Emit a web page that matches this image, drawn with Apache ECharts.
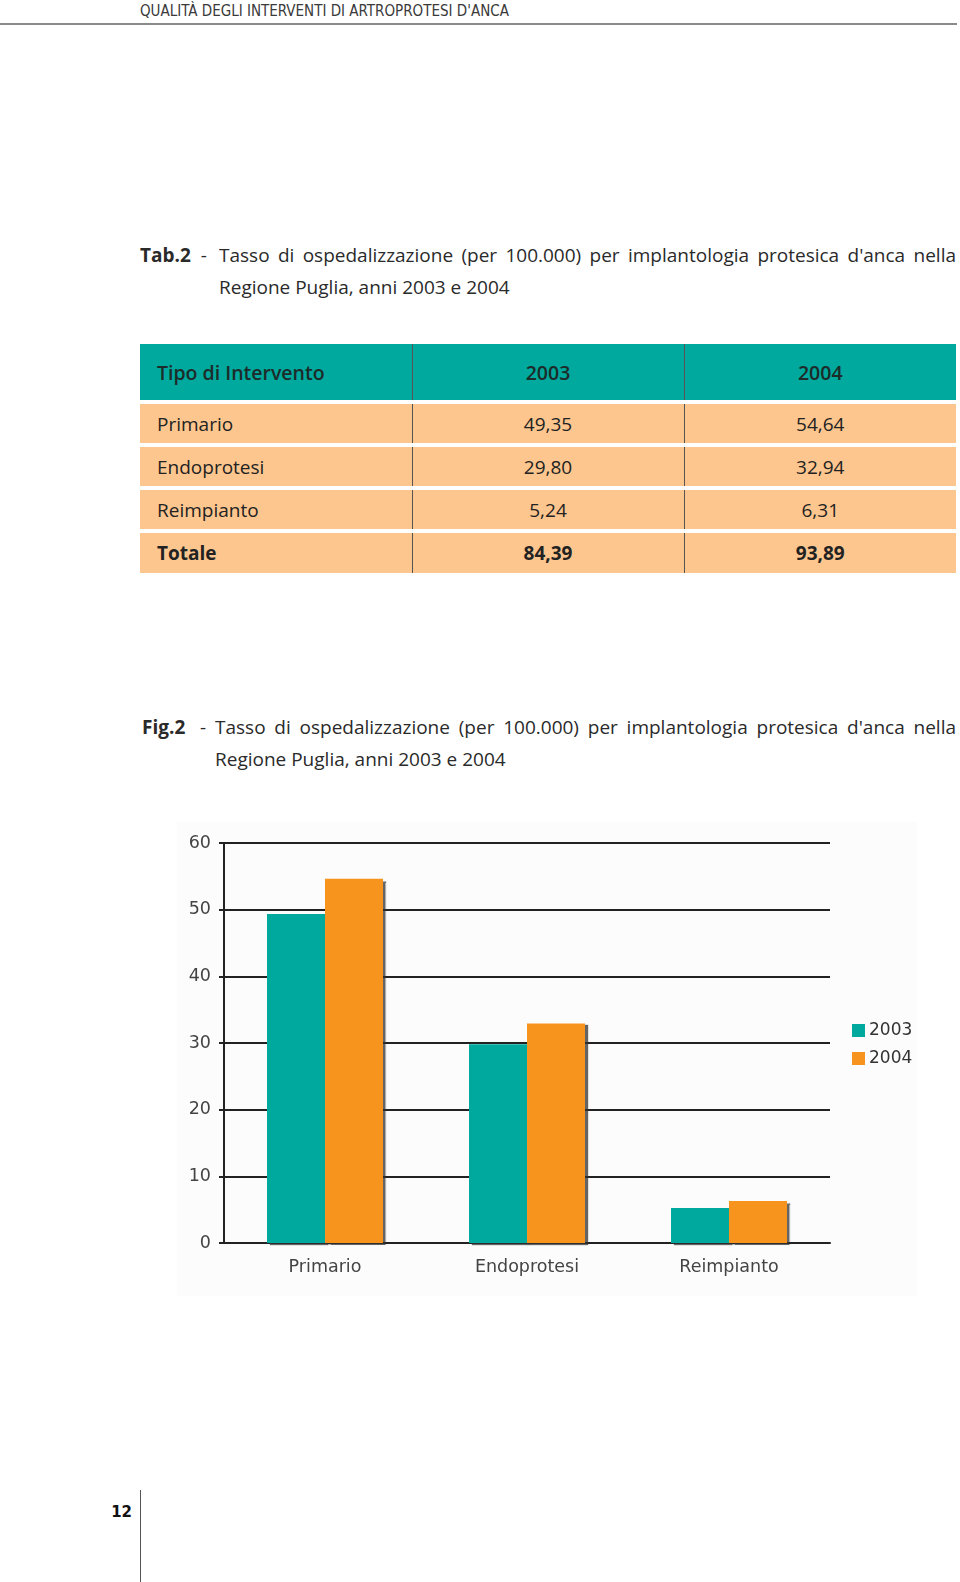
<!DOCTYPE html>
<html>
<head>
<meta charset="utf-8">
<script src="https://cdn.jsdelivr.net/npm/echarts@6/dist/echarts.min.js"></script>
<style>
  html, body { margin:0; padding:0; background:#fff; }
  body { width:960px; height:1582px; position:relative; overflow:hidden; font-family:'Open Sans','Noto Sans',sans-serif; color:#222; }
  .hdr { position:absolute; left:140px; top:2px; font-family:'DejaVu Sans Condensed','DejaVu Sans',sans-serif; font-stretch:condensed; font-size:15px; color:#3a3a3a; }
  .hdrline { position:absolute; left:0; top:23px; width:957px; height:2px; background:#8a8a8a; }
  .cap { position:absolute; font-size:19px; line-height:32px; color:#2a2a2a; }
  .cap .lab { position:absolute; left:0; top:0; white-space:nowrap; }
  .cap .lab b { font-weight:700; }
  .cap .l1 { position:absolute; top:0; text-align:justify; text-align-last:justify; }
  .cap .l2 { position:absolute; top:32px; white-space:nowrap; }
  table { position:absolute; left:140px; top:344px; width:816px; border-collapse:collapse; table-layout:fixed; font-size:19px; color:#222; }
  td { padding:0; height:39px; background:#FDC68E; border-left:1px solid #555; }
  td:first-child { border-left:none; padding-left:17px; }
  td.c { text-align:center; }
  tr.gap td { height:4px; background:#fff; border:none; }
  tr.head td { height:56px; background:#00A99D; font-weight:600; color:#1d2b2a; font-size:19.5px; }
  tr.tot td { font-weight:700; height:40px; }
  #chart { position:absolute; left:177px; top:822px; width:740px; height:474px; }
  .pg { position:absolute; left:106px; top:1503px; width:26px; text-align:right; font-family:'DejaVu Sans',sans-serif; font-weight:700; font-size:15px; color:#111; }
  .pgline { position:absolute; left:140px; top:1490px; width:1px; height:92px; background:#555; }
</style>
</head>
<body>
<div class="hdr">QUALITÀ DEGLI INTERVENTI DI ARTROPROTESI D'ANCA</div>
<div class="hdrline"></div>

<div class="cap" style="left:140px; top:239px; width:816px;">
  <div class="lab"><b>Tab.2</b>&nbsp;&nbsp;-</div>
  <div class="l1" style="left:79px; width:737px; height:32px; overflow:hidden;">Tasso di ospedalizzazione (per 100.000) per implantologia protesica d'anca nella</div>
  <div class="l2" style="left:79px;">Regione Puglia, anni 2003 e 2004</div>
</div>

<table id="tbl"></table>

<div class="cap" style="left:142px; top:711px; width:814px;">
  <div class="lab"><b>Fig.2</b>&nbsp;&nbsp;&nbsp;-</div>
  <div class="l1" style="left:73px; width:741px; height:32px; overflow:hidden;">Tasso di ospedalizzazione (per 100.000) per implantologia protesica d'anca nella</div>
  <div class="l2" style="left:73px;">Regione Puglia, anni 2003 e 2004</div>
</div>

<div id="chart"></div>

<div class="pg">12</div>
<div class="pgline"></div>

<script>
// ---- Data ----
const categories = ['Primario', 'Endoprotesi', 'Reimpianto'];
const values2003 = [49.35, 29.80, 5.24];
const values2004 = [54.64, 32.94, 6.31];
const totals = [84.39, 93.89];
const years = ['2003', '2004'];
const tableHeader = ['Tipo di Intervento', '2003', '2004'];
const totalLabel = 'Totale';
const yTicks = { min: 0, max: 60, interval: 10 };

// ---- Table ----
const fmt = v => v.toFixed(2).replace('.', ',');
let html = '<tr class="head"><td>' + tableHeader[0] + '</td><td class="c">' + tableHeader[1] + '</td><td class="c">' + tableHeader[2] + '</td></tr>';
categories.forEach((c, i) => {
  html += '<tr class="gap"><td></td><td></td><td></td></tr>';
  html += '<tr><td>' + c + '</td><td class="c">' + fmt(values2003[i]) + '</td><td class="c">' + fmt(values2004[i]) + '</td></tr>';
});
html += '<tr class="gap"><td></td><td></td><td></td></tr>';
html += '<tr class="tot"><td>' + totalLabel + '</td><td class="c">' + fmt(totals[0]) + '</td><td class="c">' + fmt(totals[1]) + '</td></tr>';
document.getElementById('tbl').innerHTML = html;

// ---- Chart ----
const chart = echarts.init(document.getElementById('chart'), null, { renderer: 'canvas' });
const shadow = { shadowColor: 'rgba(50,50,50,0.75)', shadowOffsetX: 3, shadowOffsetY: 2, shadowBlur: 1 };
chart.setOption({
  backgroundColor: '#fcfcfc',
  animation: false,
  textStyle: { fontFamily: 'DejaVu Sans, sans-serif' },
  grid: { left: 47, top: 21, width: 606, height: 400 },
  legend: {
    orient: 'vertical', left: 670, top: 195,
    itemWidth: 13, itemHeight: 13, itemGap: 11,
    icon: 'rect',
    textStyle: { fontSize: 17, color: '#333', padding: [0, 0, 0, -1] },
    data: years
  },
  xAxis: {
    type: 'category', data: categories,
    axisLine: { lineStyle: { color: '#222', width: 2 } },
    axisTick: { show: false },
    axisLabel: { fontSize: 17.5, color: '#444', margin: 15 }
  },
  yAxis: {
    type: 'value', min: yTicks.min, max: yTicks.max, interval: yTicks.interval,
    axisLine: { show: true, lineStyle: { color: '#222', width: 2 } },
    axisTick: { show: true, length: 5, lineStyle: { color: '#222', width: 2 } },
    axisLabel: { fontSize: 17.5, color: '#444', margin: 13 },
    splitLine: { lineStyle: { color: '#222', width: 2 } }
  },
  series: [
    { name: years[0], type: 'bar', data: values2003, barWidth: 58, barGap: '0%',
      itemStyle: Object.assign({ color: '#00A99D' }, shadow) },
    { name: years[1], type: 'bar', data: values2004, barWidth: 58, barGap: '0%',
      itemStyle: Object.assign({ color: '#F7941D' }, shadow) }
  ]
});
</script>
</body>
</html>
